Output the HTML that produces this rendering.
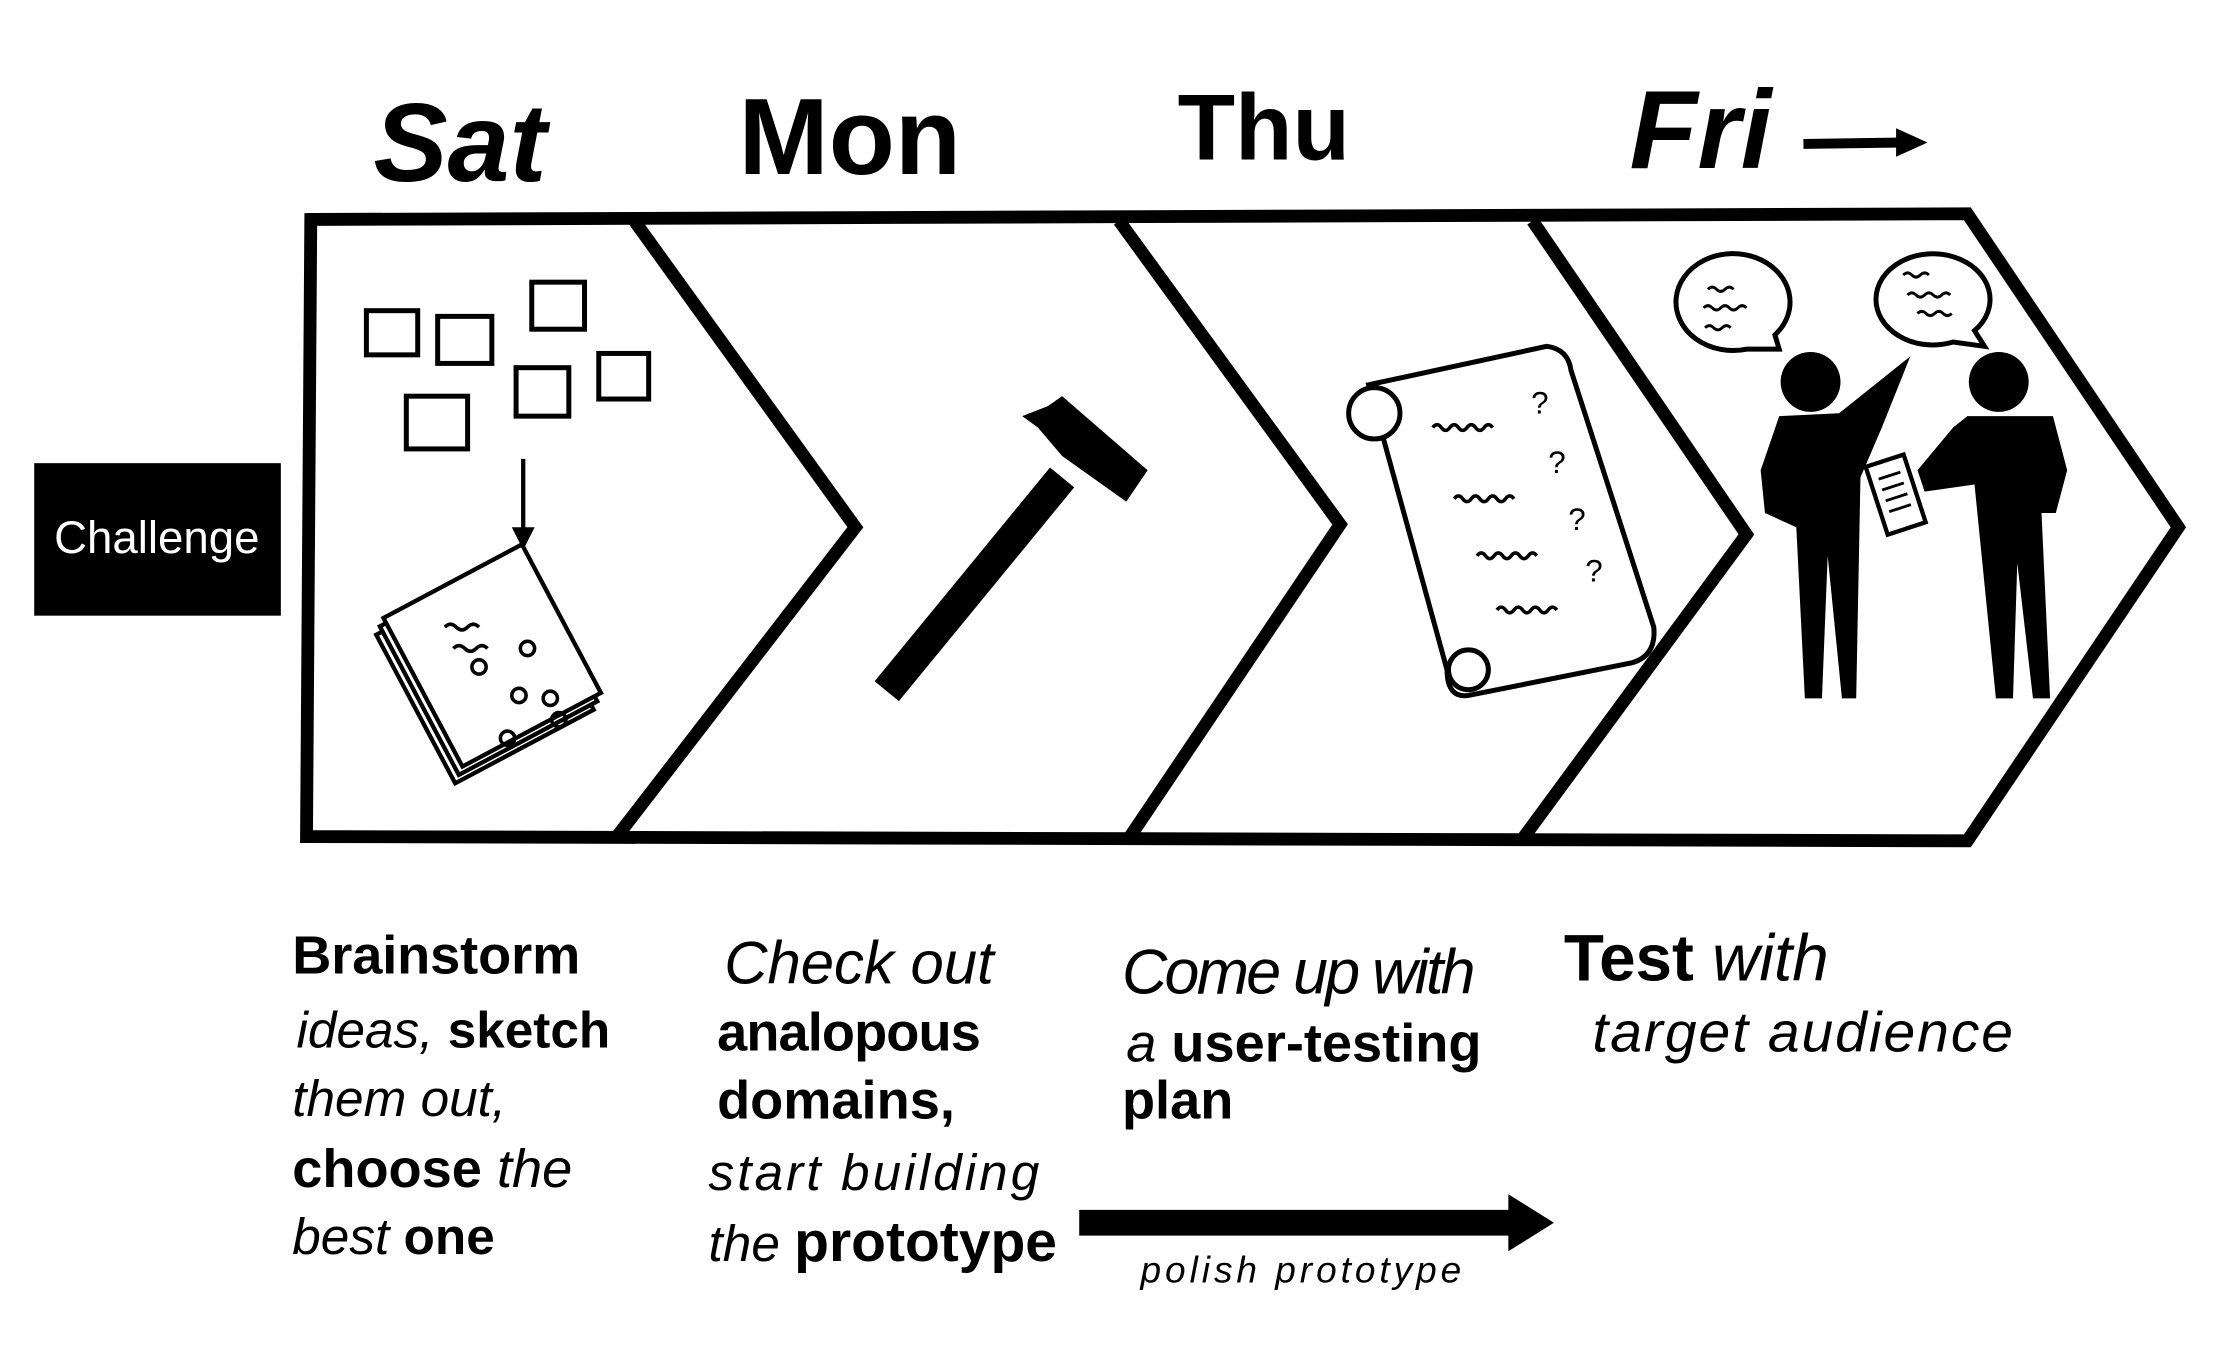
<!DOCTYPE html>
<html><head><meta charset="utf-8"><style>
html,body{margin:0;padding:0;background:#fff;}
svg{display:block;}
text{font-family:"Liberation Sans",sans-serif;fill:#000;}
</style></head><body>
<svg width="2224" height="1361" viewBox="0 0 1560 955" preserveAspectRatio="none" xmlns="http://www.w3.org/2000/svg">
<rect width="1560" height="955" fill="#fff"/>
<!-- titles -->
<text x="262" y="127" font-size="78" font-weight="bold" font-style="italic">Sat</text>
<text x="518" y="122" font-size="76" font-weight="bold">Mon</text>
<text x="826" y="112" font-size="66" font-weight="bold">Thu</text>
<text x="1143" y="118" font-size="78" font-weight="bold" font-style="italic">Fri</text>
<line x1="1265" y1="101" x2="1335" y2="100" stroke="#000" stroke-width="7"/>
<polygon points="1330,90 1352,100 1330,110" fill="#000"/>
<!-- frame -->
<g fill="none" stroke="#000" stroke-width="9" stroke-linejoin="miter">
<path d="M218,154 L1380,150 L1528,370 L1380,590 L215,587 Z"/>
<path d="M445,155 L600,370 L432,588"/>
<path d="M785,155 L940,368 L792,588"/>
<path d="M1075,155 L1225,375 L1067,590"/>
</g>
<!-- challenge -->
<rect x="24" y="325" width="173" height="107" fill="#000"/>
<text x="110" y="388" font-size="32" style="fill:#fff" text-anchor="middle">Challenge</text>
<!-- sticky notes -->
<g fill="none" stroke="#000" stroke-width="3.5">
<rect x="257" y="218" width="36" height="31"/>
<rect x="307" y="222" width="38" height="33"/>
<rect x="373" y="198" width="37" height="33"/>
<rect x="285" y="278" width="43" height="37"/>
<rect x="362" y="258" width="37" height="34"/>
<rect x="420" y="248" width="35" height="32"/>
</g>
<line x1="367" y1="322" x2="367" y2="375" stroke="#000" stroke-width="3"/>
<polygon points="359,370 367,386 375,370" fill="#000"/>
<!-- paper stack -->
<g fill="#fff" stroke="#000" stroke-width="3" transform="rotate(-28 340 465)">
<rect x="282" y="412" width="110" height="118"/>
<rect x="287" y="408" width="110" height="118"/>
<rect x="292" y="404" width="110" height="118"/>
</g>
<g fill="none" stroke="#000" stroke-width="2.5">
<path d="M312,440 q4,-4 8,0 q4,4 8,0 q4,-4 8,0"/>
<path d="M318,455 q4,-4 8,0 q4,4 8,0 q4,-4 8,0"/>
<circle cx="336" cy="468" r="5"/><circle cx="370" cy="455" r="5"/>
<circle cx="364" cy="488" r="5"/><circle cx="386" cy="490" r="5"/>
<circle cx="356" cy="518" r="5"/><circle cx="392" cy="505" r="5"/>
</g>
<!-- hammer -->
<line x1="622" y1="485" x2="745" y2="335" stroke="#000" stroke-width="22"/>
<polygon points="717,292 735,285 745,278 805,330 790,352 745,320 728,300" fill="#000"/>
<!-- scroll -->
<g fill="#fff" stroke="#000" stroke-width="3.5">
<path d="M960,270 L1085,243 Q1100,245 1102,260 L1160,440 Q1162,460 1145,465 L1030,488 Q1015,490 1015,470 Z"/>
<circle cx="964" cy="290" r="18"/>
<circle cx="1030" cy="470" r="14"/>
</g>
<g fill="none" stroke="#000" stroke-width="2.5">
<path d="M1005,300 q3,-4 6,0 q3,4 6,0 q3,-4 6,0 q3,4 6,0 q3,-4 6,0 q3,4 6,0 q3,-4 6,0"/>
<path d="M1020,350 q3,-4 6,0 q3,4 6,0 q3,-4 6,0 q3,4 6,0 q3,-4 6,0 q3,4 6,0 q3,-4 6,0"/>
<path d="M1036,390 q3,-4 6,0 q3,4 6,0 q3,-4 6,0 q3,4 6,0 q3,-4 6,0 q3,4 6,0 q3,-4 6,0"/>
<path d="M1050,428 q3,-4 6,0 q3,4 6,0 q3,-4 6,0 q3,4 6,0 q3,-4 6,0 q3,4 6,0 q3,-4 6,0"/>
</g>
<text x="1074" y="290" font-size="22">?</text>
<text x="1086" y="332" font-size="22">?</text>
<text x="1100" y="372" font-size="22">?</text>
<text x="1112" y="408" font-size="22">?</text>
<!-- speech bubbles -->
<g fill="#fff" stroke="#000" stroke-width="3.5">
<path d="M1245,235 A40,34 0 1 0 1225,245 L1248,245 Z"/>
<path d="M1385,232 A40,32 0 1 0 1370,240 L1392,243 Z"/>
</g>
<g fill="none" stroke="#000" stroke-width="2">
<path d="M1198,203 q3,-3 6,0 q3,3 6,0 q3,-3 6,0"/>
<path d="M1195,216 q3,-3 6,0 q3,3 6,0 q3,-3 6,0 q3,3 6,0 q3,-3 6,0"/>
<path d="M1196,230 q3,-3 6,0 q3,3 6,0 q3,-3 6,0"/>
<path d="M1335,193 q3,-3 6,0 q3,3 6,0 q3,-3 6,0"/>
<path d="M1338,207 q3,-3 6,0 q3,3 6,0 q3,-3 6,0 q3,3 6,0 q3,-3 6,0"/>
<path d="M1345,220 q3,-3 6,0 q3,3 6,0 q3,-3 6,0 q3,3 6,0"/>
</g>
<!-- people -->
<circle cx="1270" cy="268" r="21" fill="#000"/>
<circle cx="1402" cy="268" r="21" fill="#000"/>
<path d="M1248,292 L1290,290 L1340,250 L1320,300 L1305,335 L1302,490 L1292,490 L1282,390 L1278,490 L1266,490 L1260,370 L1238,360 L1235,330 Z" fill="#000"/>
<path d="M1380,292 L1440,292 L1450,330 L1442,360 L1432,360 L1438,490 L1426,490 L1415,395 L1412,490 L1400,490 L1385,340 L1350,345 L1345,330 L1370,300 Z" fill="#000"/>
<g transform="rotate(-18 1330 348)"><rect x="1316" y="322" width="28" height="50" fill="#fff" stroke="#000" stroke-width="3"/>
<line x1="1322" y1="333" x2="1338" y2="333" stroke="#000" stroke-width="2"/><line x1="1322" y1="341" x2="1338" y2="341" stroke="#000" stroke-width="2"/><line x1="1322" y1="349" x2="1338" y2="349" stroke="#000" stroke-width="2"/><line x1="1322" y1="357" x2="1338" y2="357" stroke="#000" stroke-width="2"/></g>
<!-- captions -->
<g font-size="38">
<text x="205" y="683" font-weight="bold" textLength="202">Brainstorm</text>
<text x="208" y="735" font-style="italic" font-size="36">ideas, <tspan font-weight="bold" font-style="normal">sketch</tspan></text>
<text x="205" y="783" font-style="italic" font-size="36">them out,</text>
<text x="205" y="833" font-weight="bold">choose <tspan font-weight="normal" font-style="italic">the</tspan></text>
<text x="205" y="880" font-size="36"><tspan font-style="italic">best</tspan> <tspan font-weight="bold">one</tspan></text>
<text x="508" y="690" font-size="42" font-style="italic">Check out</text>
<text x="503" y="737" font-weight="bold" textLength="185">analopous</text>
<text x="503" y="785" font-weight="bold">domains,</text>
<text x="497" y="835" font-style="italic" font-size="36" textLength="232">start building</text>
<text x="497" y="885" font-size="36"><tspan font-style="italic">the</tspan> <tspan font-weight="bold" font-size="40">prototype</tspan></text>
<text x="787" y="697" font-size="44" font-style="italic" textLength="248">Come up with</text>
<text x="790" y="745"><tspan font-style="italic">a</tspan> <tspan font-weight="bold">user-testing</tspan></text>
<text x="787" y="785" font-weight="bold">plan</text>
<text x="1097" y="688" font-size="46"><tspan font-weight="bold">Test</tspan> <tspan font-style="italic">with</tspan></text>
<text x="1117" y="738" font-size="40" font-style="italic" textLength="295">target audience</text>
</g>
<line x1="757" y1="858" x2="1062" y2="858" stroke="#000" stroke-width="18"/>
<polygon points="1058,838 1090,858 1058,878" fill="#000"/>
<text x="800" y="900" font-size="26" font-style="italic" textLength="225">polish prototype</text>
</svg>
</body></html>
